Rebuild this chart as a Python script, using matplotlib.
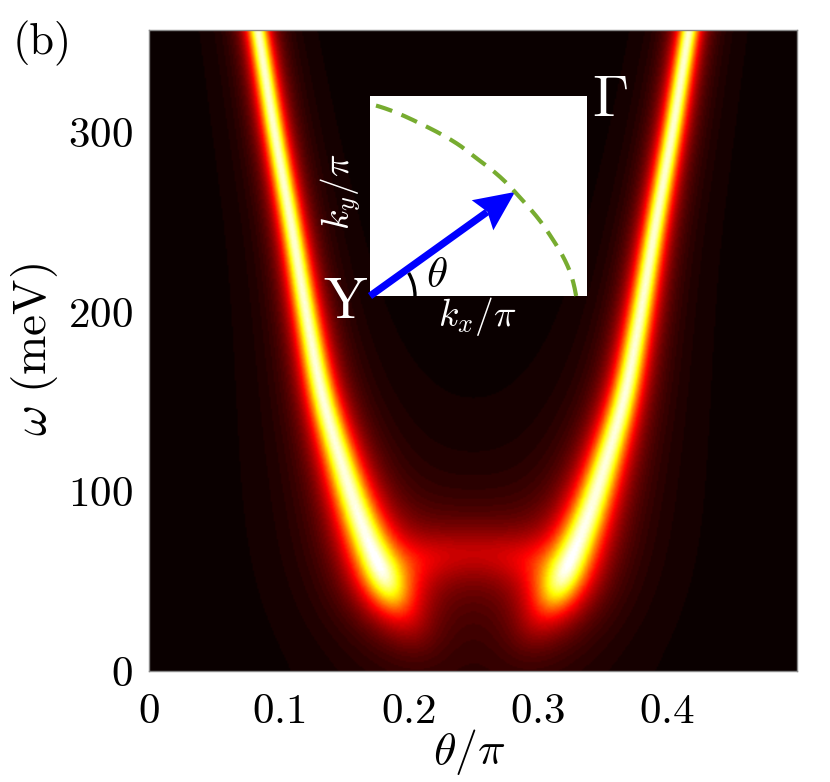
import math
import numpy as np
import matplotlib
matplotlib.use('Agg')
import matplotlib.pyplot as plt
from matplotlib.patches import Arc, Polygon

plt.rcParams['mathtext.fontset'] = 'cm'
plt.rcParams['font.family'] = ['cmr10', 'DejaVu Serif']
plt.rcParams['axes.unicode_minus'] = False

# ---------------- data ----------------
# left bright band (theta/pi, omega in meV), its half-width (px) and weight;
# below the bright end it fades out towards the centre
left_theta = [0.062, 0.0725, 0.0836, 0.0955, 0.110, 0.123, 0.132, 0.150, 0.1616, 0.172, 0.181, 0.187,
              0.192, 0.202, 0.213]
left_omega = [450, 402, 357, 304.5, 246, 191, 157, 111, 85.5, 66, 51, 43, 36, 24, 12]
# right bright band
right_theta = [0.438, 0.4275, 0.4164, 0.4045, 0.390, 0.377, 0.368, 0.350, 0.3384, 0.328, 0.319, 0.313,
               0.308, 0.298, 0.287]
right_omega = [450, 402, 357, 304.5, 246, 191, 157, 111, 85.5, 66, 51, 43, 36, 24, 12]
band_width = [11.0, 11.0, 11.4, 12.0, 12.8, 14.3, 15.7, 19.2, 21.5, 23.8, 26.0, 28.0, 30.0, 34.0, 38.0]
band_weight = [1, 1, 1, 1, 1, 1, 1, 1, 1, 1, 1.0, 0.95, 0.4, 0.2, 0.08]

# broad low-energy arch joining the band ends, and its mirror image below zero
arch_theta = [0.183, 0.210, 0.250, 0.290, 0.317]
arch_omega = [55, 62, 66, 62, 55]
arch_width = [32, 32, 32, 32, 32]
arch_weight = [0.2, 0.28, 0.26, 0.28, 0.2]
mirror_theta = [0.190, 0.250, 0.310]
mirror_omega = [-60, -67, -60]
mirror_width = [36, 36, 36]
mirror_weight = [0.3, 0.6, 0.3]

x_ticks = [0, 0.1, 0.2, 0.3, 0.4]
x_ticklabels = ['$0$', '$0.1$', '$0.2$', '$0.3$', '$0.4$']
y_ticks = [0, 100, 200, 300]
y_ticklabels = ['$0$', '$100$', '$200$', '$300$']
theta_range = (0.0, 0.5)
omega_range = (0.0, 357.0)

# inset: Fermi-surface-like dashed contour (polar, inset units) and arrow direction
fs_angle_deg = [0, 6.0, 22.1, 37.9, 51.8, 62.3, 72.9, 90]
fs_radius = [0.95, 0.934, 0.878, 0.847, 0.844, 0.861, 0.886, 0.96]
arrow_angle_deg = 37.9


def pchip(x, y, xq):
    x = np.asarray(x, float)
    y = np.asarray(y, float)
    xq = np.asarray(xq, float)
    h = np.diff(x)
    d = np.diff(y) / h
    m = np.zeros_like(y)
    for k in range(1, len(x) - 1):
        if d[k - 1] * d[k] > 0:
            w1 = 2 * h[k] + h[k - 1]
            w2 = h[k] + 2 * h[k - 1]
            m[k] = (w1 + w2) / (w1 / d[k - 1] + w2 / d[k])
    m[0] = d[0]
    m[-1] = d[-1]
    i = np.clip(np.searchsorted(x, xq) - 1, 0, len(x) - 2)
    t = (xq - x[i]) / h[i]
    h00 = 2 * t**3 - 3 * t**2 + 1
    h10 = t**3 - 2 * t**2 + t
    h01 = -2 * t**3 + 3 * t**2
    h11 = t**3 - t**2
    return h00 * y[i] + h10 * h[i] * m[i] + h01 * y[i + 1] + h11 * h[i] * m[i + 1]


# pixel scale of the main axes (used only to make the broadening isotropic on screen)
SX = (797 - 149) / (theta_range[1] - theta_range[0])
SY = (671 - 30) / (omega_range[1] - omega_range[0])


def sample_curve(ths, oms, hs, ws, step=1.5):
    X = np.asarray(ths, float) * SX
    Y = np.asarray(oms, float) * SY
    s = np.r_[0, np.cumsum(np.hypot(np.diff(X), np.diff(Y)))]
    sq = np.arange(0, s[-1] + 1e-9, step)
    return pchip(s, X, sq), pchip(s, Y, sq), pchip(s, hs, sq), pchip(s, ws, sq), step


def line_intensity(GX, GY, curve, p=1.0):
    # kernel whose integral across a straight line gives (1 + (d/h)^2)^(-p), peak 1
    cx, cy, ch, cw, ds = curve
    C = math.sqrt(math.pi) * math.gamma(p) / math.gamma(p + 0.5)
    out = np.zeros_like(GX)
    for x0, y0, h, w in zip(cx, cy, ch, cw):
        r2 = (GX - x0)**2 + (GY - y0)**2 + h * h
        out += (w * ds * h**(2 * p) / C) * r2**(-(p + 0.5))
    return out


# ---------------- spectral map ----------------
th = np.linspace(theta_range[0], theta_range[1], 432)
om = np.linspace(omega_range[0], omega_range[1], 428)
GX, GY = np.meshgrid(th * SX, om * SY)
A = (line_intensity(GX, GY, sample_curve(left_theta, left_omega, band_width, band_weight), p=1.25)
     + line_intensity(GX, GY, sample_curve(right_theta, right_omega, band_width, band_weight), p=1.25)
     + line_intensity(GX, GY, sample_curve(arch_theta, arch_omega, arch_width, arch_weight, step=2.0))
     + line_intensity(GX, GY, sample_curve(mirror_theta, mirror_omega, mirror_width, mirror_weight, step=2.0)))

fig = plt.figure(figsize=(8.30, 7.82), dpi=100)
ax = fig.add_axes([149 / 830, 1 - 671 / 782, (797 - 149) / 830, (671 - 30) / 782])
cmap = plt.get_cmap('hot', 64)
ax.imshow(A, origin='lower', aspect='auto', cmap=cmap, vmin=0, vmax=1 / 0.95,
          extent=[theta_range[0], theta_range[1], omega_range[0], omega_range[1]],
          interpolation='bilinear')
ax.set_xlim(*theta_range)
ax.set_ylim(*omega_range)
ax.set_xticks(x_ticks)
ax.set_xticklabels(x_ticklabels, fontsize=31)
ax.set_yticks(y_ticks)
ax.set_yticklabels(y_ticklabels, fontsize=31)
ax.tick_params(axis='x', length=0, pad=16)
ax.tick_params(axis='y', length=0, pad=12)
for s in ax.spines.values():
    s.set_color('#888888')
    s.set_linewidth(1.0)
fig.text(469 / 830, 1 - 752 / 782, r'$\theta/\pi$', fontsize=33, ha='center', va='center')
fig.text(34 / 830, 1 - 350 / 782, r'$\omega\ (\mathrm{meV})$', fontsize=34, ha='center', va='center',
         rotation=90)
fig.text(42 / 830, 1 - 43 / 782, '(b)', fontsize=32, ha='center', va='center')

# ---------------- inset ----------------
ins = fig.add_axes([370 / 830, 1 - 296 / 782, 217 / 830, 200 / 782])
ins.set_facecolor('white')
ins.set_xlim(0, 1)
ins.set_ylim(0, 1)
ins.set_xticks([])
ins.set_yticks([])
for s in ins.spines.values():
    s.set_visible(False)
ang = np.linspace(0, 90, 200)
rad = pchip(fs_angle_deg, fs_radius, ang)
ins.plot(rad * np.cos(np.radians(ang)), rad * np.sin(np.radians(ang)),
         color='#77AC30', lw=3.0, dashes=(4.1, 2.4), clip_on=False)
ins.add_patch(Arc((0, 0), 2 * 45 / 217, 2 * 45 / 200, theta1=0, theta2=33, color='black', lw=2.4))

# arrow from Y to the contour, head drawn in pixel space (stealth-like)
r_tip = pchip(fs_angle_deg, fs_radius, [arrow_angle_deg])[0]
tip = np.array([r_tip * np.cos(np.radians(arrow_angle_deg)), r_tip * np.sin(np.radians(arrow_angle_deg))])
T = ins.transData
p0 = T.transform((0, 0))
p1 = T.transform(tip)
u = (p1 - p0) / np.hypot(*(p1 - p0))
n = np.array([-u[1], u[0]])
L, Wd = 40.0, 37.0
head_px = [p1, p1 - L * u + 0.5 * Wd * n, p1 - 0.85 * L * u, p1 - L * u - 0.5 * Wd * n]
head = T.inverted().transform(np.array(head_px))
shaft_end = T.inverted().transform(p1 - 0.86 * L * u)
ins.plot([0, shaft_end[0]], [0, shaft_end[1]], color='blue', lw=5.2, solid_capstyle='butt', clip_on=False)
ins.add_patch(Polygon(head, closed=True, facecolor='blue', edgecolor='none', clip_on=False))
ins.text(0.31, 0.10, r'$\theta$', fontsize=31, ha='center', va='center', color='black')

fig.text(345 / 830, 1 - 303 / 782, 'Y', fontsize=42, color='white', ha='center', va='center')
fig.text(610 / 830, 1 - 101 / 782, r'$\Gamma$', fontsize=42, color='white', ha='center', va='center')
fig.text(477 / 830, 1 - 316 / 782, r'$k_x/\pi$', fontsize=27, color='white', ha='center', va='center')
fig.text(341 / 830, 1 - 192 / 782, r'$k_y/\pi$', fontsize=27, color='white', ha='center', va='center',
         rotation=90)

fig.savefig('out.png', dpi=100)
